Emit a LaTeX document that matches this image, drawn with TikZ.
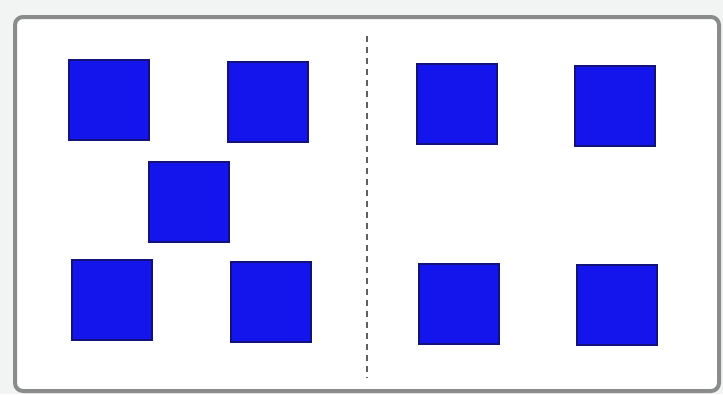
\documentclass[tikz,border=0pt]{standalone}
\begin{document}
\begin{tikzpicture}[x=1pt,y=-1pt,
  sq/.style={draw=sqborder,fill=sqfill,line width=1.8pt,minimum size=80pt,inner sep=0pt,anchor=north west},
  frame/.style={draw=framegrey,line width=4pt,fill=white,rounded corners=8pt}]
\definecolor{sqfill}{HTML}{1414EC}
\definecolor{sqborder}{HTML}{12127A}
\definecolor{framegrey}{HTML}{8A8C8C}
\definecolor{bggrey}{HTML}{F2F4F4}
\definecolor{dashgrey}{HTML}{606060}
\useasboundingbox (0,0) rectangle (723,394);
\fill[bggrey] (0,0) rectangle (723,394);
\node[frame,minimum width=704pt,minimum height=374pt,anchor=north west,inner sep=0pt] (fr) at (13,15) {};
\coordinate (dtop) at (367,36);
\coordinate (dbot) at (367,378);
\draw[dashgrey,line width=2.4pt,dash pattern=on 6pt off 5pt] (dtop) -- (dbot);
\foreach \n/\x/\y in {a/68/59, b/227/61, c/148/161, d/71/259, e/230/261, f/416/63, g/574/65, h/418/263, i/576/264}{
  \node[sq] (\n) at (\x,\y) {};
}
\end{tikzpicture}
\end{document}
